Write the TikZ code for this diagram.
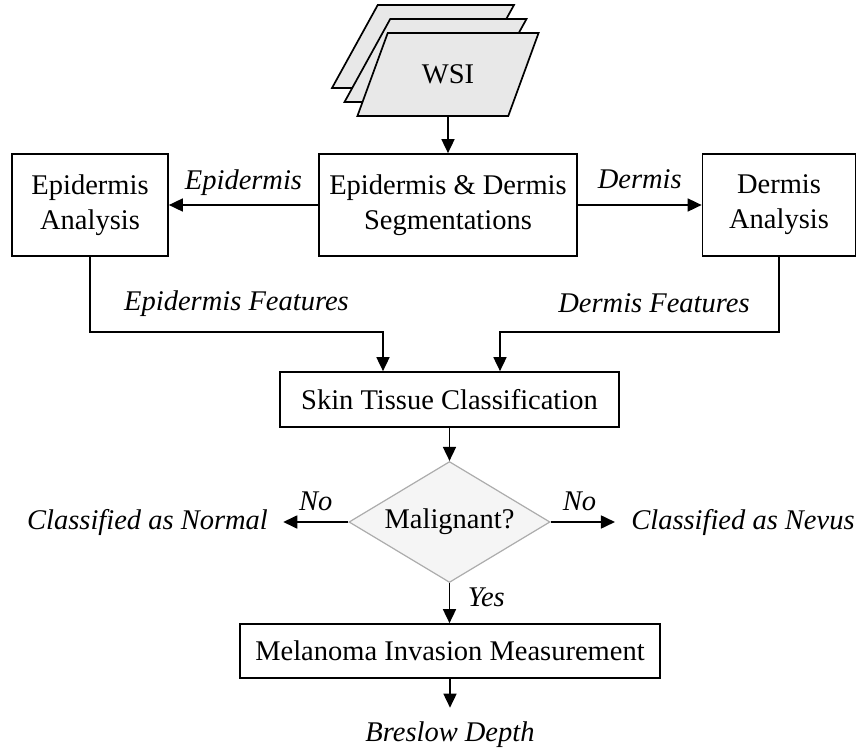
\documentclass[tikz,border=0pt]{standalone}
\usepackage{fontspec}
\setmainfont{Liberation Serif}
\usetikzlibrary{arrows.meta,shapes.geometric}

\begin{document}
\begin{tikzpicture}[
  x=0.5pt, y=-0.5pt,
  font=\fontsize{14.25pt}{17.5pt}\selectfont,
  box/.style={draw, line width=0.85pt, align=center, inner sep=0pt},
  wsipage/.style={draw, line width=0.85pt, fill=gray!18, trapezium, trapezium left angle=63.2, trapezium right angle=116.8, trapezium stretches=true, minimum width=91pt, minimum height=41.5pt},
  decide/.style={draw=gray!65, fill=gray!8, line width=0.6pt, diamond, aspect=1.66, inner sep=0pt, minimum width=100.5pt, minimum height=60.5pt},
  lbl/.style={font=\fontsize{14.25pt}{17.5pt}\selectfont\itshape},
  elbl/.style={lbl, anchor=base},
  arr/.style={-{Triangle[length=7pt, width=6.5pt]}, line width=0.85pt}
]
  \useasboundingbox (0,0) rectangle (859,750);

  \node[wsipage] (back) at (423,46.5) {};
  \node[wsipage] (mid) at (435.5,60.5) {};
  \node[wsipage] (wsi) at (448,74.5) {WSI};

  \node[box, minimum width=129pt, minimum height=51pt] (seg) at (448,205) {Epidermis \& Dermis\\Segmentations};
  \node[box, minimum width=78pt, minimum height=51pt] (epid) at (90,205) {Epidermis\\Analysis};
  \node[box, minimum width=76.5pt, minimum height=51pt] (derm) at (779,205) {Dermis\\Analysis};
  \node[box, minimum width=169.5pt, minimum height=27.5pt] (skin) at (449.5,399.5) {Skin Tissue Classification};
  \node[decide] (malig) at (449.5,522) {Malignant?};
  \node[box, minimum width=210pt, minimum height=27pt] (mel) at (450,651) {Melanoma Invasion Measurement};
  \node[lbl, inner xsep=7.5pt] (normal) at (147.5,522) {Classified as Normal};
  \node[lbl, inner xsep=8pt] (nevus) at (743,522) {Classified as Nevus};
  \node[lbl, inner ysep=7pt] (depth) at (450,735) {Breslow Depth};

  \coordinate (efeat) at (383,332);
  \coordinate (dfeat) at (500,332);

  \draw[arr] (wsi) -- (seg);
  \draw[arr] (seg) -- node[elbl, yshift=8pt] {Epidermis} (epid);
  \draw[arr] (seg) -- node[elbl, yshift=8.5pt] {Dermis} (derm);
  \draw[arr] (epid.south) |- node[elbl, pos=0.75, yshift=11pt] {Epidermis Features} (efeat) -- (efeat |- skin.north);
  \draw[arr] (derm.south) |- node[elbl, pos=0.724, yshift=10pt] {Dermis Features} (dfeat) -- (dfeat |- skin.north);
  \draw[arr] (skin) -- (malig);
  \draw[arr] (malig) -- node[elbl, yshift=6pt] {No} (normal);
  \draw[arr] (malig) -- node[elbl, pos=0.45, yshift=6pt] {No} (nevus);
  \draw[arr] (malig) -- node[lbl, anchor=base west, xshift=5.4pt, yshift=-1.75pt] {Yes} (malig |- mel.north);
  \draw[arr] (mel) -- (depth);
\end{tikzpicture}
\end{document}
